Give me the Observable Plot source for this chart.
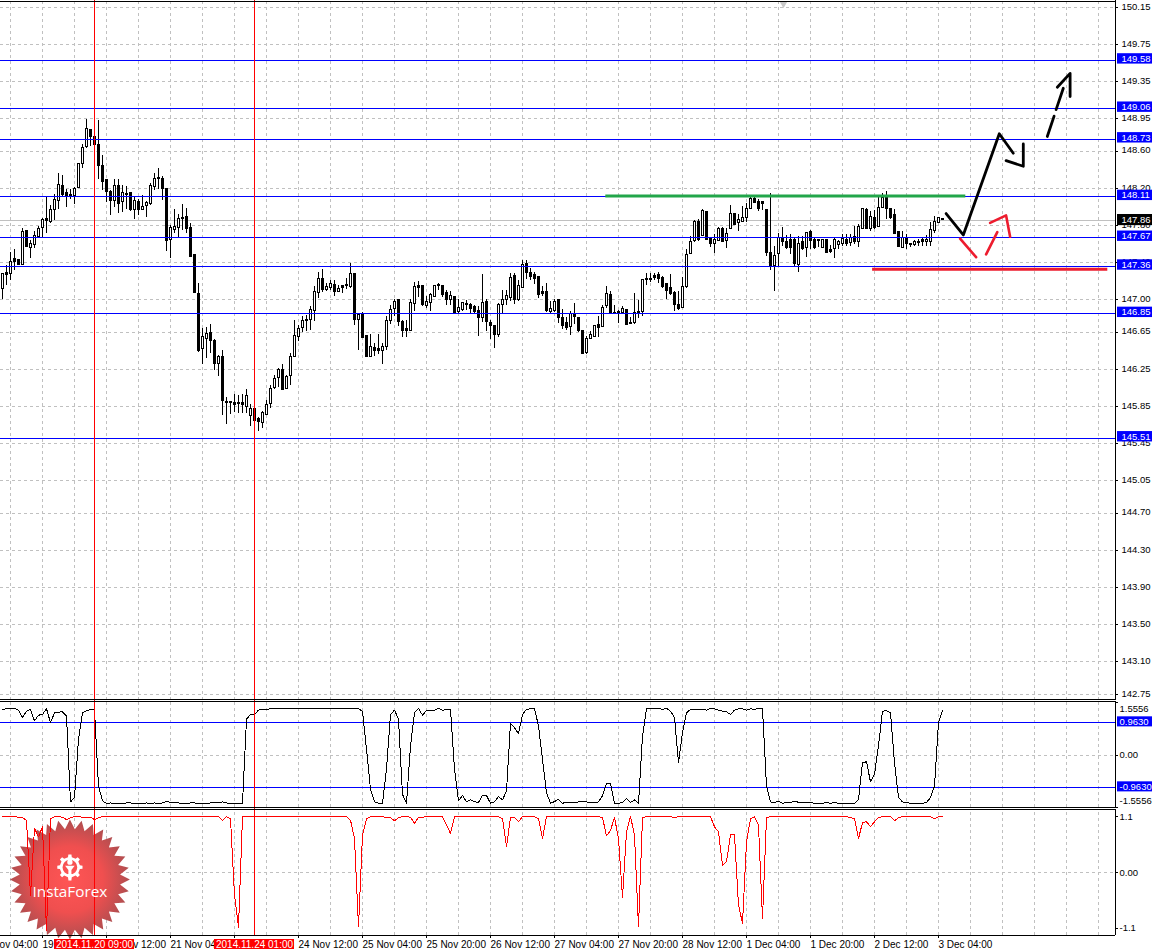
<!DOCTYPE html>
<html><head><meta charset="utf-8">
<script src="https://cdn.jsdelivr.net/npm/d3@7"></script>
<script src="https://cdn.jsdelivr.net/npm/@observablehq/plot@0.6"></script>
<style>html,body{margin:0;padding:0;background:#fff}svg{display:block}#chart{width:1157px;height:949px;overflow:hidden}</style>
</head><body><div id="chart"></div>
<script>
const opens=[147.12,147.29,147.28,147.44,147.43,147.38,147.74,147.56,147.59,147.68,
147.77,147.87,147.84,147.97,148.07,148.23,148.15,148.13,148.12,148.21,
148.46,148.65,148.83,148.76,148.67,148.44,148.29,148.16,148.07,148.23,
148.05,148.14,148.15,147.97,148.05,147.97,148.01,148.03,148.22,148.31,
148.30,148.20,147.64,147.75,147.77,147.88,147.89,147.77,147.48,147.06,
146.47,146.58,146.64,146.56,146.31,146.39,145.90,145.90,145.89,145.89,
145.89,145.85,145.75,145.83,145.72,145.67,145.76,145.88,146.05,146.16,
146.24,146.04,146.18,146.39,146.60,146.70,146.78,146.78,146.88,147.07,
147.23,147.11,147.13,147.16,147.09,147.15,147.16,147.14,147.28,146.78,
146.85,146.61,146.39,146.48,146.47,146.45,146.49,146.77,146.90,147.00,
146.76,146.69,146.67,146.96,147.15,147.15,146.93,146.97,147.03,147.15,
147.15,147.07,147.00,147.03,146.87,146.89,146.96,146.95,146.92,146.88,
146.80,146.98,146.75,146.72,146.62,146.95,147.00,147.02,147.26,147.00,
147.13,147.39,147.29,147.27,147.25,147.09,147.08,146.87,146.88,147.00,
146.80,146.75,146.71,146.85,146.81,146.67,146.43,146.58,146.60,146.73,
146.71,146.93,147.05,146.86,146.87,146.86,146.89,146.75,146.75,146.87,
146.87,147.23,147.23,147.26,147.27,147.24,147.17,147.13,147.07,146.95,
146.91,147.14,147.49,147.63,147.84,147.69,147.95,147.66,147.60,147.63,
147.76,147.63,147.76,147.92,147.83,147.84,147.88,147.98,148.09,148.05,
148.05,147.97,147.50,147.37,147.49,147.67,147.62,147.64,147.65,147.38,
147.62,147.56,147.73,147.65,147.64,147.56,147.64,147.54,147.55,147.59,
147.60,147.65,147.61,147.68,147.62,147.76,147.97,147.76,147.88,147.79,
147.99,148.10,147.98,147.91,147.73,147.56,147.67,147.60,147.59,147.62,
147.64,147.62,147.62,147.74,147.83,147.87];
const highs=[147.28,147.37,147.51,147.54,147.44,147.77,147.75,147.64,147.74,147.79,
147.88,148.10,148.02,148.13,148.36,148.34,148.19,148.19,148.21,148.46,
148.67,148.94,148.84,148.76,148.93,148.56,148.29,148.18,148.30,148.30,
148.23,148.22,148.15,148.10,148.08,148.12,148.06,148.25,148.36,148.42,
148.33,148.20,147.80,147.97,147.92,148.03,147.98,147.82,147.48,147.18,
146.69,146.70,146.74,146.57,146.40,146.46,145.95,145.91,145.98,145.97,
145.98,146.03,145.87,145.83,145.73,145.80,145.92,146.08,146.19,146.26,
146.30,146.19,146.42,146.78,146.72,146.82,146.83,146.93,147.14,147.30,
147.33,147.18,147.21,147.21,147.15,147.16,147.23,147.39,147.28,146.84,
146.86,146.61,146.63,146.53,146.63,146.53,146.82,146.94,147.00,147.00,
146.78,146.78,147.00,147.19,147.20,147.15,147.04,147.07,147.16,147.18,
147.16,147.10,147.09,147.03,147.00,146.97,146.99,146.96,146.94,146.93,
147.27,147.00,146.78,146.72,146.96,147.10,147.10,147.28,147.28,147.21,
147.42,147.42,147.34,147.30,147.25,147.14,147.18,146.98,147.00,147.00,
146.90,146.81,146.87,146.96,146.81,146.67,146.61,146.66,146.72,146.82,
146.94,147.14,147.09,146.94,146.89,146.93,146.90,146.81,147.07,146.99,
147.21,147.28,147.28,147.28,147.30,147.25,147.18,147.27,147.09,147.09,
147.24,147.54,147.68,147.86,147.87,147.97,147.95,147.66,147.70,147.78,
147.78,147.77,148.02,147.92,147.92,148.01,148.04,148.10,148.10,148.08,
148.05,147.97,148.15,147.58,147.71,147.78,147.69,147.70,147.67,147.68,
147.68,147.72,147.75,147.67,147.65,147.65,147.65,147.59,147.66,147.64,
147.70,147.70,147.70,147.79,147.81,147.98,147.98,147.95,147.96,148.11,
148.15,148.17,147.98,147.97,147.73,147.74,147.70,147.60,147.64,147.65,
147.66,147.69,147.83,147.90,147.88,147.87];
const lows=[147.00,147.15,147.21,147.32,147.37,147.37,147.56,147.45,147.55,147.68,
147.67,147.72,147.82,147.86,147.97,148.11,148.00,148.08,148.03,148.21,
148.42,148.63,148.65,148.67,148.30,148.18,148.05,147.91,148.00,147.93,
147.94,147.97,147.95,147.87,147.91,147.97,147.89,148.02,148.18,148.19,
148.07,147.52,147.45,147.72,147.67,147.75,147.72,147.46,147.07,146.43,
146.30,146.37,146.42,146.24,146.17,145.76,145.66,145.77,145.79,145.78,
145.78,145.78,145.64,145.70,145.58,145.61,145.76,145.83,146.03,146.06,
146.03,146.04,146.08,146.39,146.55,146.65,146.66,146.67,146.77,147.01,
147.08,147.09,147.10,147.04,147.08,147.07,147.11,147.12,146.72,146.45,
146.58,146.39,146.39,146.39,146.41,146.30,146.45,146.73,146.82,146.71,
146.60,146.59,146.66,146.88,147.03,146.93,146.91,146.87,147.03,147.10,
147.03,146.94,146.94,146.85,146.85,146.88,146.89,146.85,146.85,146.61,
146.76,146.66,146.57,146.48,146.60,146.84,146.94,146.98,146.95,146.98,
147.12,147.22,147.21,147.17,147.01,147.04,146.86,146.85,146.86,146.75,
146.68,146.67,146.62,146.74,146.65,146.41,146.41,146.58,146.60,146.60,
146.70,146.91,146.85,146.84,146.75,146.85,146.72,146.73,146.74,146.80,
146.82,147.16,147.19,147.21,147.18,147.12,147.00,147.05,146.87,146.89,
146.91,147.12,147.49,147.62,147.63,147.68,147.64,147.56,147.50,147.63,
147.62,147.55,147.76,147.80,147.74,147.83,147.83,147.97,148.04,147.95,
147.96,147.47,147.32,147.09,147.36,147.58,147.54,147.49,147.36,147.30,
147.53,147.46,147.54,147.54,147.56,147.56,147.50,147.50,147.45,147.54,
147.57,147.58,147.58,147.60,147.56,147.76,147.76,147.74,147.76,147.78,
147.98,147.87,147.87,147.70,147.56,147.55,147.54,147.56,147.57,147.57,
147.58,147.57,147.57,147.72,147.82,147.86];
const closes=[147.28,147.27,147.41,147.41,147.38,147.73,147.57,147.60,147.69,147.76,
147.86,147.85,147.97,148.08,148.24,148.13,148.12,148.12,148.20,148.46,
148.64,148.84,148.75,148.67,148.44,148.27,148.16,148.07,148.23,148.03,
148.15,148.13,147.97,148.06,147.97,148.00,148.04,148.23,148.30,148.30,
148.19,147.63,147.77,147.78,147.87,147.87,147.76,147.46,147.07,146.45,
146.60,146.63,146.56,146.31,146.38,145.91,145.89,145.89,145.87,145.88,
145.87,145.97,145.82,145.70,145.68,145.78,145.87,146.04,146.15,146.24,
146.03,146.17,146.38,146.61,146.69,146.77,146.77,146.89,147.08,147.22,
147.11,147.14,147.17,147.08,147.12,147.13,147.15,147.28,146.78,146.84,
146.59,146.39,146.49,146.45,146.45,146.49,146.77,146.89,146.98,146.76,
146.67,146.67,146.97,147.14,147.13,146.94,146.98,147.05,147.15,147.16,
147.05,147.00,147.04,146.86,146.91,146.97,146.95,146.90,146.87,146.81,
146.97,146.76,146.72,146.62,146.94,147.00,147.04,147.24,147.00,147.15,
147.38,147.29,147.25,147.22,147.05,147.06,146.88,146.90,146.98,146.80,
146.72,146.70,146.85,146.82,146.66,146.42,146.58,146.62,146.72,146.70,
146.91,147.06,146.85,146.85,146.86,146.90,146.73,146.74,146.86,146.86,
147.21,147.21,147.21,147.24,147.22,147.14,147.10,147.06,146.95,146.90,
147.14,147.48,147.62,147.84,147.64,147.96,147.65,147.60,147.65,147.76,
147.62,147.71,147.92,147.81,147.86,147.88,147.98,148.09,148.04,147.98,
148.03,147.50,147.37,147.47,147.67,147.62,147.56,147.56,147.39,147.60,
147.55,147.72,147.63,147.56,147.63,147.64,147.51,147.52,147.64,147.62,
147.66,147.60,147.67,147.62,147.78,147.98,147.76,147.89,147.77,147.99,
148.10,147.98,147.88,147.71,147.57,147.67,147.60,147.59,147.62,147.61,
147.62,147.65,147.75,147.84,147.88,147.86];

const blackOsc=[1.35,1.37,1.37,1.39,1.33,1.11,1.30,1.35,1.01,1.18,
1.20,1.37,.96,1.25,1.27,1.28,1.16,-1.39,-1.26,.46,
1.25,1.31,1.35,1.33,-.92,-1.36,-1.43,-1.42,-1.43,-1.43,
-1.43,-1.42,-1.42,-1.43,-1.43,-1.43,-1.42,-1.43,-1.42,-1.43,
-1.42,-1.37,-1.41,-1.42,-1.42,-1.43,-1.43,-1.42,-1.42,-1.43,
-1.43,-1.43,-1.42,-1.42,-1.42,-1.39,-1.42,-1.43,-1.43,-1.43,
-1.43,1.06,1.20,1.20,1.33,1.35,1.35,1.37,1.37,1.38,
1.38,1.38,1.37,1.38,1.38,1.38,1.37,1.38,1.38,1.38,
1.38,1.38,1.37,1.38,1.38,1.38,1.38,1.38,1.38,1.37,
1.30,.17,-1.02,-1.39,-1.43,-1.43,-.42,1.20,1.33,1.06,
-1.17,-1.43,.27,1.25,1.38,1.18,1.32,1.33,1.33,1.38,
1.33,1.34,1.35,-.42,-1.36,-1.20,-1.39,-1.33,-1.39,-1.40,
-1.20,-1.20,-1.43,-1.39,-1.23,-1.33,-1.07,.94,.81,.63,
1.20,1.35,1.37,1.38,.86,-.13,-1.12,-1.43,-1.38,-1.31,
-1.43,-1.40,-1.41,-1.41,-1.39,-1.39,-1.39,-1.41,-1.41,-1.39,
-1.21,-.84,-.84,-1.43,-1.43,-1.41,-1.29,-1.41,-1.33,-1.43,
.56,1.37,1.38,1.38,1.38,1.35,1.38,1.30,1.11,-.23,
.66,1.25,1.35,1.35,1.35,1.35,1.33,1.38,1.37,1.33,
1.30,1.28,1.20,1.33,1.37,1.37,1.33,1.37,1.35,1.38,
1.37,-.92,-1.39,-1.41,-1.37,-1.43,-1.41,-1.41,-1.37,-1.40,
-1.42,-1.41,-1.41,-1.43,-1.43,-1.43,-1.41,-1.43,-1.41,-1.43,
-1.43,-1.43,-1.43,-1.43,-1.31,-.23,-.20,-.80,-.57,.27,
1.30,1.31,1.25,-.23,-1.26,-1.39,-1.41,-1.43,-1.43,-1.43,
-1.43,-1.41,-1.26,-.92,.96,1.32];

const redOsc=[1.10,1.10,1.10,1.10,1.09,1.08,1.03,-.45,.87,.70,
.90,-1.14,1.06,1.10,1.10,1.09,1.04,1.08,1.10,1.10,
1.09,1.09,1.09,1.04,1.08,1.10,1.10,1.10,1.10,1.10,
1.10,1.10,1.10,1.10,1.10,1.10,1.10,1.10,1.10,1.10,
1.10,1.10,1.10,1.10,1.10,1.10,1.10,1.10,1.10,1.10,
1.10,1.10,1.10,1.10,1.10,1.02,1.10,1.06,-.45,-1.08,
1.10,1.10,1.10,1.10,1.10,1.10,1.10,1.10,1.10,1.10,
1.10,1.10,1.10,1.10,1.10,1.10,1.10,1.10,1.10,1.10,
1.10,1.10,1.10,1.10,1.10,1.10,1.10,1.03,.67,-1.07,
.74,1.06,1.10,1.10,1.10,1.10,1.08,1.08,1.02,1.08,
1.10,1.10,1.09,.97,1.09,1.09,1.10,1.10,1.10,1.10,
1.10,.93,.77,1.10,1.10,1.10,1.10,1.10,1.10,1.10,
1.10,1.10,1.10,1.10,1.10,1.06,.51,1.08,1.08,1.00,
1.10,1.10,1.10,1.10,1.06,.67,1.10,1.10,1.10,1.10,
1.10,1.10,1.10,1.10,1.10,1.10,1.10,1.10,1.10,1.10,
1.08,.72,.83,1.08,.67,-.49,.80,1.10,.74,-1.07,
1.08,1.10,1.10,1.10,1.10,1.10,1.10,1.10,1.08,1.10,
1.10,1.10,1.10,1.10,1.10,1.10,1.10,1.10,.90,.80,
.14,.21,.74,.74,-.64,-1.00,.60,1.06,1.10,.93,
-.91,1.08,1.10,1.10,1.10,1.10,1.10,1.10,1.10,1.10,
1.10,1.10,1.10,1.10,1.10,1.10,1.10,1.10,1.10,1.10,
1.10,1.10,1.08,1.06,.67,.98,1.00,.90,1.00,1.08,
1.10,1.10,1.10,1.02,1.08,1.10,1.10,1.10,1.10,1.10,
1.10,1.10,1.10,1.06,1.10,1.10];

const blueLevels=[149.58,149.06,148.73,148.11,147.67,147.36,146.85,145.51];
const lastPrice=147.86;
const priceTicks=[150.15,149.75,149.35,148.95,148.60,148.20,147.80,147.40,147.00,146.65,146.25,145.85,145.45,145.05,144.70,144.30,143.90,143.50,143.10,142.75];
const oscLevels=[0.963,-0.963];
const eventBars=[23,63];
const eventLabels=["2014.11.20 09:00","2014.11.24 01:00"];
const timeBars=[-6,10,26,42,58,74,90,106,122,138,154,170,186,202,218,234];
const timeLabels=["19 Nov 04:00","19 Nov 20:00","20 Nov 12:00","21 Nov 04:00","21 Nov 20:00","24 Nov 12:00","25 Nov 04:00","25 Nov 20:00","26 Nov 12:00","27 Nov 04:00","27 Nov 20:00","28 Nov 12:00","1 Dec 04:00","1 Dec 20:00","2 Dec 12:00","3 Dec 04:00"];
const greenSegment=[[150.7,148.12],[240.7,148.12]];
const redSegment=[[217.4,147.33],[276.2,147.33]];
const blackStrokes=[[[235.9,147.93],[240.2,147.70],[249.2,148.79],[252.7,148.58]],[[250.9,148.50],[255.2,148.44],[255.2,148.68]],[[261.2,148.76],[262.9,148.98]],[[263.4,149.05],[265.2,149.28]],[[263.7,149.29],[266.9,149.44],[266.9,149.19]]];
const redStrokes=[[[239.4,147.66],[243.4,147.46]],[[245.9,147.49],[248.7,147.73]],[[246.9,147.83],[250.9,147.91],[251.9,147.68]]];

const candles=opens.map((o,i)=>({i,o,h:highs[i],l:lows[i],c:closes[i]}));
const W=1157, XD=[-0.5,288.75], LEFT=-0.5, RIGHT=278.25, GUT=279.25, LBL=279.75;
const gridBars=d3.range(2,278,8);
const FONT={fontFamily:"Liberation Sans",fontSize:9.5};
const TIMEFONT={fontFamily:"Liberation Sans",fontSize:10};
const BLUE="#0000ff", GRID="#c0c0c0", RED="#ff0000", MARKRED="#ed1c2e";
const base=(h,domain)=>({width:W,height:h,marginTop:0,marginRight:0,marginBottom:0,marginLeft:0,
  x:{domain:XD,range:[0,W],axis:null},y:{domain,range:[h,0],axis:null},style:{background:"#fff",overflow:"hidden"}});
const crisp={shapeRendering:"crispEdges"};
const hline=(arr,o={})=>Plot.ruleY(arr,{x1:LEFT,x2:RIGHT,...crisp,...o});
const strokeRows=s=>s.flatMap((p,k)=>p.map(([bar,price])=>({k,bar,price})));

/* main pane */
const mainTop=150.225, mainBot=mainTop-700/92.84;
const mainPlot=Plot.plot({...base(700,[mainBot,mainTop]),marks:[
  hline(priceTicks,{stroke:GRID,strokeDasharray:"3,3"}),
  Plot.ruleX(gridBars,{y1:mainBot,y2:mainTop,stroke:GRID,strokeDasharray:"3,3",...crisp}),
  hline([lastPrice],{stroke:GRID}),
  Plot.ruleX(candles,{x:"i",y1:"l",y2:"h",stroke:"#000",...crisp}),
  Plot.rect(candles,{filter:d=>d.c>=d.o,x1:d=>d.i-.25,x2:d=>d.i+.25,y1:"o",y2:"c",fill:"#fff",stroke:"#000",...crisp}),
  Plot.rect(candles,{filter:d=>d.c<d.o,x1:d=>d.i-.25,x2:d=>d.i+.25,y1:"o",y2:"c",fill:"#000",stroke:"#000",...crisp}),
  hline(blueLevels,{stroke:BLUE}),
  Plot.ruleX(eventBars,{y1:mainBot,y2:mainTop,stroke:RED,...crisp}),
  Plot.line(greenSegment,{x:"0",y:"1",stroke:"#22a64a",strokeWidth:3,strokeLinecap:"butt"}),
  Plot.line(redSegment,{x:"0",y:"1",stroke:MARKRED,strokeWidth:3,strokeLinecap:"butt"}),
  Plot.line(strokeRows(blackStrokes),{x:"bar",y:"price",z:"k",stroke:"#000",strokeWidth:2.8}),
  Plot.line(strokeRows(redStrokes),{x:"bar",y:"price",z:"k",stroke:MARKRED,strokeWidth:2.6}),
  Plot.dot([0],{x:195.25,y:mainTop-3/92.84,symbol:"triangle",rotate:180,r:3,fill:"#c8c8c8"}),
  Plot.ruleX([RIGHT],{y1:mainBot,y2:mainTop,stroke:"#000",...crisp}),
  hline([mainTop-1/92.84,mainTop-699/92.84],{stroke:"#000"}),
  Plot.ruleY(priceTicks,{x1:RIGHT,x2:RIGHT+.75,stroke:"#000",...crisp}),
  Plot.text(priceTicks,{x:LBL,y:d=>d,text:d=>d.toFixed(2),textAnchor:"start",dy:-1,fill:"#000",...FONT}),
  Plot.rect(blueLevels,{x1:GUT-.5,x2:GUT+8.25,y1:d=>d+.072,y2:d=>d-.04,fill:BLUE}),
  Plot.text(blueLevels,{x:LBL,y:d=>d+.016,text:d=>d.toFixed(2),textAnchor:"start",fill:"#fff",...FONT}),
  Plot.rect([lastPrice],{x1:GUT-.5,x2:GUT+8.25,y1:d=>d+.06,y2:d=>d-.06,fill:"#000"}),
  Plot.text([lastPrice],{x:LBL,y:d=>d,text:d=>d.toFixed(2),textAnchor:"start",fill:"#fff",...FONT})
]});

/* oscillator 1 */
const osc1Lim=1.5556, o1U=33.75, o1Top=54.5/o1U, o1Bot=o1Top-108/o1U;
const o1=blackOsc.map((v,i)=>({i,v}));
const osc1Plot=Plot.plot({...base(108,[o1Bot,o1Top]),marks:[
  hline([0],{stroke:GRID,strokeDasharray:"3,3"}),
  Plot.ruleX(gridBars,{y1:-osc1Lim,y2:osc1Lim,stroke:GRID,strokeDasharray:"3,3",...crisp}),
  hline(oscLevels,{stroke:BLUE}),
  Plot.line(o1,{x:"i",y:"v",stroke:"#000",strokeWidth:1,...crisp}),
  Plot.ruleX(eventBars,{y1:o1Bot,y2:o1Top,stroke:RED,...crisp}),
  Plot.ruleX([RIGHT],{y1:-osc1Lim,y2:osc1Lim+.03,stroke:"#000",...crisp}),
  hline([osc1Lim+.03,-osc1Lim],{stroke:"#000"}),
  Plot.ruleY([0,osc1Lim,-osc1Lim],{x1:RIGHT,x2:RIGHT+.75,stroke:"#000",...crisp}),
  Plot.text([0],{x:GUT,y:d=>d,text:()=>"0.00",textAnchor:"start",dy:-.5,...FONT}),
  Plot.text([osc1Lim],{x:GUT,y:d=>d,dy:6,text:d=>d.toFixed(4),textAnchor:"start",...FONT}),
  Plot.text([-osc1Lim],{x:GUT,y:d=>d,dy:-6.5,text:d=>d.toFixed(4),textAnchor:"start",...FONT}),
  Plot.rect(oscLevels,{x1:GUT-.5,x2:GUT+8.25,y1:d=>d+.168,y2:d=>d-.13,fill:BLUE}),
  Plot.text(oscLevels,{x:GUT,y:d=>d+.02,text:d=>d.toFixed(4),textAnchor:"start",fill:"#fff",...FONT})
]});

/* oscillator 2 */
const pxU=50.77, o2Top=64/pxU, o2Bot=o2Top-141/pxU, o2Upper=o2Top-.5/pxU, o2Lower=o2Top-126.5/pxU, timeRow=o2Top-136/pxU;
const o2=redOsc.map((v,i)=>({i,v}));
const logoX=16.85;
const star={draw(ctx,size){const R=Math.sqrt(size/Math.PI),n=32,ri=R*.84;
  for(let k=0;k<2*n;k++){const r=k%2?ri:R,a=Math.PI*k/n-Math.PI/2;
    const px=r*Math.cos(a),py=r*Math.sin(a);k?ctx.lineTo(px,py):ctx.moveTo(px,py);}ctx.closePath();}};
const gear={draw(ctx,size){const R=Math.sqrt(size/Math.PI),n=8,ro=R,rm=R*.8,rh=R*.58;
  for(let k=0;k<n;k++){const a=2*Math.PI*k/n;
    [[-.2,rm],[-.13,ro],[.13,ro],[.2,rm]].forEach(([d,r],j)=>{const t=a+d*Math.PI/n*2.4,px=r*Math.cos(t),py=r*Math.sin(t);(k||j)?ctx.lineTo(px,py):ctx.moveTo(px,py);});}
  ctx.closePath();ctx.moveTo(rh,0);ctx.arc(0,0,rh,0,2*Math.PI,true);ctx.closePath();
  const h=R*.21;ctx.moveTo(h,-R*.4);ctx.arc(0,-R*.4,h,0,2*Math.PI);ctx.closePath();
  ctx.moveTo(-R*.38,-R*.12);ctx.lineTo(R*.38,-R*.12);ctx.lineTo(R*.12,R*.22);ctx.lineTo(R*.12,R*1.05);ctx.lineTo(-R*.12,R*1.05);ctx.lineTo(-R*.12,R*.22);ctx.closePath();}};
const osc2Plot=Plot.plot({...base(141,[o2Bot,o2Top]),marks:[
  ()=>{const d=d3.create("svg:defs"),g=d.append("radialGradient").attr("id","logoGrad");
    g.append("stop").attr("offset","0%").attr("stop-color","#ff5555");
    g.append("stop").attr("offset","55%").attr("stop-color","#f04f4f");
    g.append("stop").attr("offset","100%").attr("stop-color","#b04e50");return d.node();},
  hline([0],{stroke:GRID,strokeDasharray:"3,3"}),
  Plot.ruleX(gridBars,{y1:o2Lower,y2:o2Upper,stroke:GRID,strokeDasharray:"3,3",...crisp}),
  Plot.dot([0],{x:logoX,y:-.138,symbol:star,r:60,fill:"url(#logoGrad)",stroke:"none"}),
  Plot.line(o2,{x:"i",y:"v",stroke:RED,strokeWidth:1,...crisp}),
  Plot.ruleX(eventBars,{y1:o2Lower,y2:o2Top,stroke:RED,...crisp}),
  Plot.dot([0],{x:logoX,y:.104,symbol:gear,r:12.7,fill:"#fff",stroke:"none"}),
  Plot.text(["InstaForex"],{x:logoX,y:-.388,fill:"#fff",fontFamily:"Open Sans",fontSize:15.3}),
  Plot.ruleX([RIGHT],{y1:o2Lower,y2:o2Upper,stroke:"#000",...crisp}),
  hline([o2Upper,o2Lower],{stroke:"#000"}),
  Plot.ruleY([1.1,0,-1.1],{x1:RIGHT,x2:RIGHT+.75,stroke:"#000",...crisp}),
  Plot.text([1.1,-1.1],{x:GUT,y:d=>d,text:d=>d.toFixed(1),textAnchor:"start",...FONT}),
  Plot.text([0],{x:GUT,y:d=>d,text:()=>"0.00",textAnchor:"start",...FONT}),
  Plot.ruleX(timeBars,{y1:o2Lower,y2:o2Lower-3/pxU,stroke:"#000",...crisp}),
  Plot.text(timeLabels,{x:(d,i)=>timeBars[i],y:timeRow,text:d=>d,textAnchor:"start",...TIMEFONT}),
  Plot.rect(eventBars,{x1:d=>d-10,x2:d=>d+10,y1:o2Top-131/pxU,y2:o2Bot,fill:RED}),
  Plot.text(eventLabels,{x:(d,i)=>eventBars[i],y:timeRow,text:d=>d,fill:"#fff",...TIMEFONT})
]});
const host=document.getElementById("chart");
host.append(mainPlot,osc1Plot,osc2Plot);
</script></body></html>
